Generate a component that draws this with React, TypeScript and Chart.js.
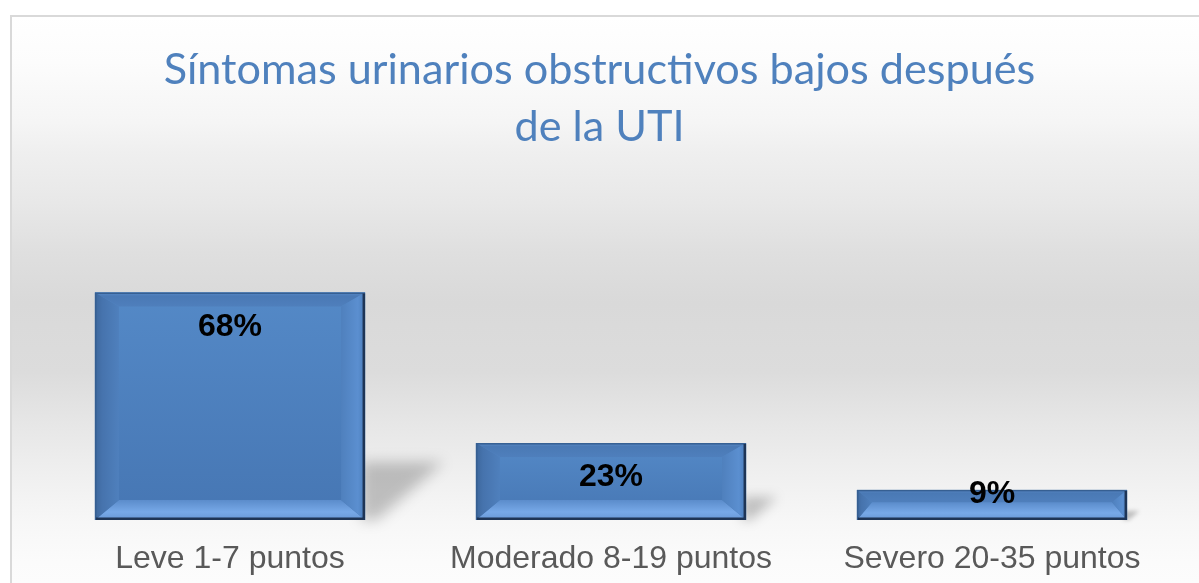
import React, { useEffect, useRef } from "react";
import { Chart, registerables } from "chart.js";

Chart.register(...registerables);

const titleLines = ["Síntomas urinarios obstructivos bajos después", "de la UTI"];
const categories = ["Leve 1-7 puntos", "Moderado 8-19 puntos", "Severo 20-35 puntos"];
const percentValues = [68, 23, 9];
const axisMax = 100;

const W = 1199;
const H = 583;

const shadowPlugin = {
  id: "barShadow",
  beforeDatasetsDraw(chart: any) {
    const ctx = chart.ctx;
    const meta = chart.getDatasetMeta(0);
    meta.data.forEach((el: any) => {
      const R = el.x + el.width / 2;
      const B = el.base;
      const h = B - el.y;
      const sh = Math.min(h * 0.3, 58);
      const sw = sh * 1.35;
      ctx.save();
      ctx.filter = `blur(${Math.max(2, Math.min(7, sh / 4))}px)`;
      ctx.fillStyle = "rgba(0,0,0,0.22)";
      ctx.beginPath();
      ctx.moveTo(R - 4, B - sh);
      ctx.lineTo(R + sw, B - sh);
      ctx.lineTo(R + sw * 0.15, B);
      ctx.lineTo(R - 4, B);
      ctx.closePath();
      ctx.fill();
      ctx.restore();
    });
  },
};

const bevelPlugin = {
  id: "barBevel",
  afterDatasetsDraw(chart: any) {
    const ctx = chart.ctx;
    const meta = chart.getDatasetMeta(0);
    const ds = chart.data.datasets[0];
    meta.data.forEach((el: any, i: number) => {
      const L = el.x - el.width / 2;
      const R = el.x + el.width / 2;
      const T = el.y;
      const B = el.base;
      const h = B - T;
      let bt = 14;
      let bb = 20;
      if (bt + bb > h) {
        const f = h / (bt + bb);
        bt *= f;
        bb *= f;
      }
      const bs = Math.min(24, h / 2);
      const iL = L + bs;
      const iR = R - bs;
      const iT = T + bt;
      const iB = B - bb;

      ctx.save();
      const g = ctx.createLinearGradient(0, T, 0, B);
      g.addColorStop(0, "#5489c7");
      g.addColorStop(1, "#4676b3");
      ctx.fillStyle = g;
      ctx.fillRect(L, T, R - L, h);

      const gt = ctx.createLinearGradient(0, T, 0, iT);
      gt.addColorStop(0, "#5d8fcc");
      gt.addColorStop(0.25, "#4a79b5");
      gt.addColorStop(1, "#4f7fbc");
      ctx.fillStyle = gt;
      ctx.beginPath();
      ctx.moveTo(L, T);
      ctx.lineTo(R, T);
      ctx.lineTo(iR, iT);
      ctx.lineTo(iL, iT);
      ctx.closePath();
      ctx.fill();

      const gb = ctx.createLinearGradient(0, iB, 0, B);
      gb.addColorStop(0, "#5b8ccb");
      gb.addColorStop(0.6, "#77a9e8");
      gb.addColorStop(1, "#6898d6");
      ctx.fillStyle = gb;
      ctx.beginPath();
      ctx.moveTo(L, B);
      ctx.lineTo(R, B);
      ctx.lineTo(iR, iB);
      ctx.lineTo(iL, iB);
      ctx.closePath();
      ctx.fill();

      const gl = ctx.createLinearGradient(L, 0, iL, 0);
      gl.addColorStop(0, "#3d679c");
      gl.addColorStop(0.3, "#4673ad");
      gl.addColorStop(1, "#4f80bd");
      ctx.fillStyle = gl;
      ctx.beginPath();
      ctx.moveTo(L, T);
      ctx.lineTo(iL, iT);
      ctx.lineTo(iL, iB);
      ctx.lineTo(L, B);
      ctx.closePath();
      ctx.fill();

      const gr = ctx.createLinearGradient(iR, 0, R, 0);
      gr.addColorStop(0, "#4f80bd");
      gr.addColorStop(0.7, "#5b8fd0");
      gr.addColorStop(1, "#4a7cba");
      ctx.fillStyle = gr;
      ctx.beginPath();
      ctx.moveTo(R, T);
      ctx.lineTo(iR, iT);
      ctx.lineTo(iR, iB);
      ctx.lineTo(R, B);
      ctx.closePath();
      ctx.fill();

      ctx.lineWidth = 1.5;
      ctx.strokeStyle = "#365f92";
      ctx.strokeRect(L + 0.75, T + 0.75, R - L - 1.5, h - 1.5);
      ctx.lineWidth = 2.5;
      ctx.strokeStyle = "#1e3556";
      ctx.beginPath();
      ctx.moveTo(R - 1.25, T + 1);
      ctx.lineTo(R - 1.25, B - 1.25);
      ctx.lineTo(L + 1, B - 1.25);
      ctx.stroke();

      const v = ds.data[i];
      ctx.fillStyle = "#000000";
      ctx.font = "bold 32px 'Liberation Sans', Arial, sans-serif";
      ctx.textAlign = "center";
      ctx.textBaseline = "alphabetic";
      const baseY = h > 60 ? T + 43 : T + 13;
      ctx.fillText(`${v}%`, el.x, baseY);
      ctx.restore();
    });
  },
};

export default function App() {
  const canvasRef = useRef<HTMLCanvasElement | null>(null);

  useEffect(() => {
    if (!canvasRef.current) return;
    const chart = new Chart(canvasRef.current, {
      type: "bar",
      data: {
        labels: categories,
        datasets: [
          {
            data: percentValues,
            backgroundColor: "#4F81BD",
            borderWidth: 0,
            barPercentage: 0.709,
            categoryPercentage: 1,
          },
        ],
      },
      options: {
        responsive: false,
        animation: false,
        layout: { padding: { left: 16.5, right: 16.5, top: 0, bottom: -15.4 } },
        plugins: {
          legend: { display: false },
          tooltip: { enabled: false },
          title: {
            display: true,
            text: titleLines,
            color: "#4F81BD",
            font: { family: "Lato, 'Open Sans', sans-serif", size: 43.2, weight: "normal", lineHeight: "57px" } as any,
            padding: { top: 41.5, bottom: 30 },
          },
        },
        scales: {
          x: {
            grid: { display: false, drawTicks: false },
            border: { display: false },
            ticks: {
              color: "#595959",
              padding: 20,
              font: { family: "'Liberation Sans', Arial, sans-serif", size: 32 },
            },
          },
          y: {
            display: true,
            min: 0,
            max: axisMax,
            grid: { display: false, drawTicks: false },
            border: { display: false },
            ticks: { display: false },
            afterFit: (s: any) => {
              s.width = 23;
            },
          },
        },
      },
      plugins: [shadowPlugin, bevelPlugin],
    });
    return () => chart.destroy();
  }, []);

  return (
    <div style={{ position: "fixed", left: 0, top: 0, width: W, height: H, background: "#ffffff", overflow: "hidden" }}>
      <div
        style={{
          position: "absolute",
          left: 10,
          top: 15,
          width: 1210,
          height: 600,
          borderLeft: "2px solid #d9d9d9",
          borderTop: "2px solid #d9d9d9",
          background:
            "linear-gradient(to bottom, #ffffff 0px, #fcfcfc 45px, #f5f5f5 105px, #efefef 135px, #e8e8e8 185px, #dfdfdf 235px, #d9d9d9 285px, #dcdcdc 355px, #e6e6e6 405px, #efefef 455px, #f7f7f7 505px, #fbfbfb 545px, #fdfdfd 585px)",
        }}
      />
      <canvas ref={canvasRef} width={W} height={H} style={{ position: "absolute", left: 0, top: 0, width: W, height: H }} />
    </div>
  );
}
